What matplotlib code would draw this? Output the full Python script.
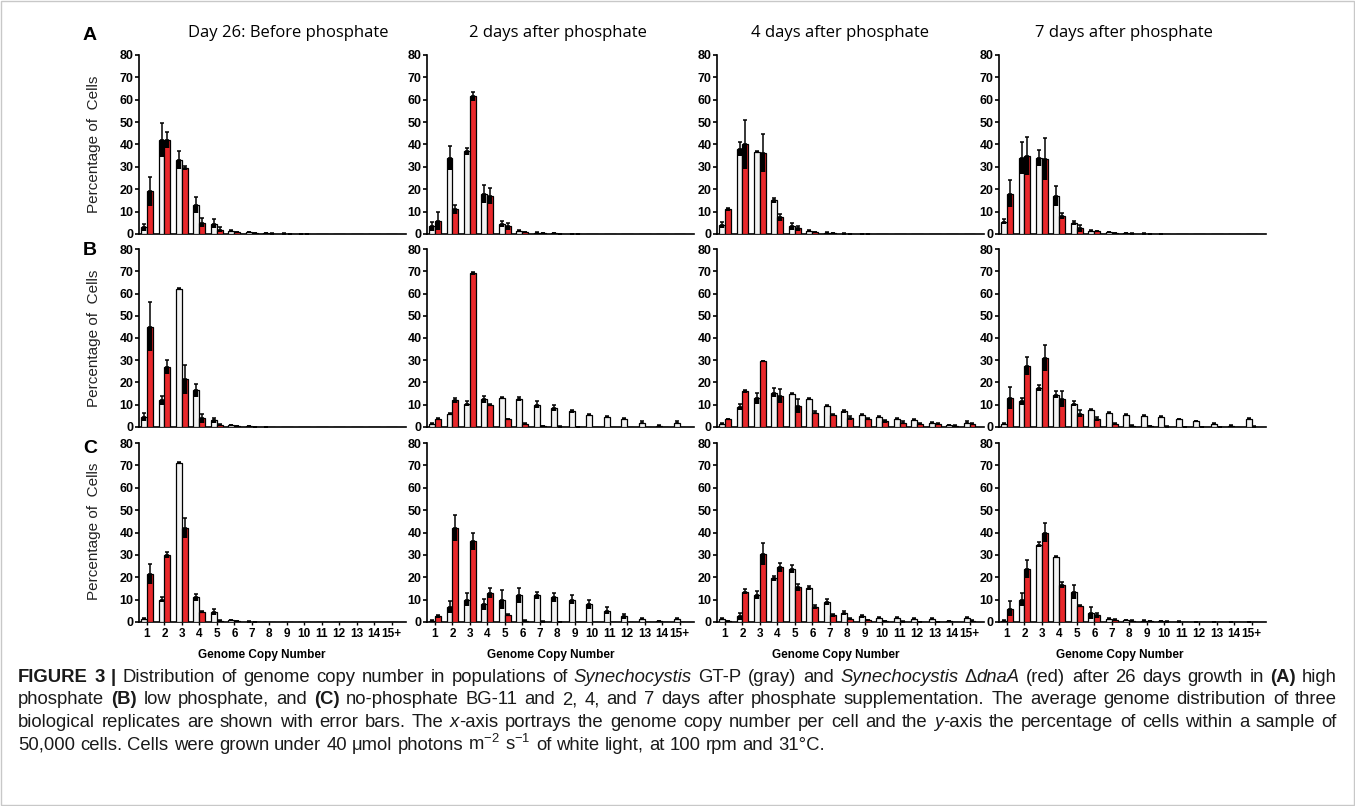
import matplotlib
matplotlib.use("Agg")
import matplotlib.pyplot as plt
import numpy as np
from matplotlib.patches import Rectangle

# genome copy number categories
cats = ["1", "2", "3", "4", "5", "6", "7", "8", "9", "10", "11", "12", "13", "14", "15+"]
col_titles = ["Day 26: Before phosphate", "2 days after phosphate",
              "4 days after phosphate", "7 days after phosphate"]
row_letters = ["A", "B", "C"]

# row A: high phosphate
a1_gtp = [3, 42, 33, 13, 4.5, 1.5, 0.8, 0.3, 0.2, 0.1, 0, 0, 0, 0, 0]
a1_gtp_err = [1.5, 7.5, 4, 3.5, 2, 0.5, 0.3, 0.2, 0.1, 0.1, 0, 0, 0, 0, 0]
a1_dna = [19, 42, 29.5, 5, 2, 0.8, 0.3, 0.2, 0.1, 0.1, 0, 0, 0, 0, 0]
a1_dna_err = [6.5, 3.5, 1, 2, 1, 0.3, 0.2, 0.1, 0.1, 0.1, 0, 0, 0, 0, 0]

a2_gtp = [3.5, 34, 37, 18, 4.5, 1.2, 0.5, 0.3, 0.1, 0, 0, 0, 0, 0, 0]
a2_gtp_err = [2, 5.5, 1.5, 4, 1.5, 0.4, 0.3, 0.2, 0.1, 0, 0, 0, 0, 0, 0]
a2_dna = [6, 11, 61.5, 17, 3.5, 0.8, 0.3, 0.1, 0.1, 0, 0, 0, 0, 0, 0]
a2_dna_err = [4, 2, 2, 3.5, 1.5, 0.3, 0.2, 0.1, 0.1, 0, 0, 0, 0, 0, 0]

a3_gtp = [4, 38, 36.5, 15, 3.5, 1.2, 0.5, 0.2, 0.1, 0, 0, 0, 0, 0, 0]
a3_gtp_err = [1.5, 3, 0.5, 1, 1.5, 0.4, 0.2, 0.1, 0.1, 0, 0, 0, 0, 0, 0]
a3_dna = [11, 40, 36, 7.5, 2.5, 0.7, 0.3, 0.1, 0.1, 0, 0, 0, 0, 0, 0]
a3_dna_err = [0.5, 11, 8.5, 1.5, 1, 0.3, 0.2, 0.1, 0.1, 0, 0, 0, 0, 0, 0]

a4_gtp = [5.5, 34, 34, 17, 5, 1.5, 0.7, 0.4, 0.2, 0.1, 0, 0, 0, 0, 0]
a4_gtp_err = [1, 7, 3.5, 4.5, 1, 0.4, 0.3, 0.2, 0.1, 0.1, 0, 0, 0, 0, 0]
a4_dna = [18, 35, 33.5, 8, 2.5, 1.2, 0.3, 0.2, 0.1, 0, 0, 0, 0, 0, 0]
a4_dna_err = [6, 8.5, 9.5, 1.5, 1.5, 0.3, 0.2, 0.1, 0.1, 0, 0, 0, 0, 0, 0]

# row B: low phosphate
b1_gtp = [4.5, 12, 62, 16.5, 3, 0.8, 0.4, 0.1, 0, 0, 0, 0, 0, 0, 0]
b1_gtp_err = [2, 2, 0.5, 3, 1, 0.3, 0.2, 0.1, 0, 0, 0, 0, 0, 0, 0]
b1_dna = [45, 27, 21.5, 4, 1, 0.3, 0.1, 0, 0, 0, 0, 0, 0, 0, 0]
b1_dna_err = [11, 3, 6.5, 2, 0.5, 0.2, 0.1, 0, 0, 0, 0, 0, 0, 0, 0]

b2_gtp = [1.5, 6, 10.5, 12.5, 13, 12.5, 10, 8.5, 7, 5.5, 4.5, 3.5, 2, 0.5, 2]
b2_gtp_err = [0.5, 0.5, 1, 1.5, 0.5, 1, 1.5, 1.5, 0.5, 0.5, 0.5, 0.5, 0.5, 0.2, 0.5]
b2_dna = [3.5, 12, 69, 10, 3.5, 1.5, 0.3, 0.2, 0.1, 0, 0, 0, 0, 0, 0]
b2_dna_err = [0.5, 1, 0.5, 0.5, 0.3, 0.2, 0.1, 0.1, 0.1, 0, 0, 0, 0, 0, 0]

b3_gtp = [1.5, 9, 13, 15.5, 15, 12.5, 9.5, 7, 5.5, 4.5, 3.5, 3, 2, 0.8, 2]
b3_gtp_err = [0.3, 1.5, 2.5, 2, 0.5, 0.5, 0.5, 0.5, 0.5, 0.5, 0.5, 0.5, 0.3, 0.2, 0.5]
b3_dna = [3.5, 16, 29.5, 14, 9.5, 6.5, 5.5, 4, 3.5, 2.5, 2, 1.5, 1.5, 0.5, 1.5]
b3_dna_err = [0.3, 0.5, 0.3, 3, 3, 0.5, 0.5, 1, 0.5, 0.5, 0.5, 0.3, 0.3, 0.2, 0.3]

b4_gtp = [1.5, 11.5, 17.5, 14.5, 10.5, 7.5, 6.5, 5.5, 5, 4.5, 3.5, 2.5, 1.5, 0.5, 3.5]
b4_gtp_err = [0.3, 1.5, 1.5, 1.5, 1, 0.5, 0.3, 0.3, 0.3, 0.3, 0.3, 0.3, 0.3, 0.2, 0.5]
b4_dna = [13, 27.5, 31, 12.5, 6, 3.5, 1.5, 0.5, 0.3, 0.2, 0.1, 0.1, 0.1, 0, 0.2]
b4_dna_err = [5, 4, 6, 3.5, 1.5, 1, 0.5, 0.2, 0.1, 0.1, 0.1, 0.1, 0.1, 0, 0.1]

# row C: no phosphate
c1_gtp = [1.5, 10, 71, 11, 4.5, 0.8, 0.2, 0, 0, 0, 0, 0, 0, 0, 0]
c1_gtp_err = [0.3, 1, 0.3, 1.7, 1.5, 0.3, 0.1, 0, 0, 0, 0, 0, 0, 0, 0]
c1_dna = [21.5, 30, 42, 4.5, 0.5, 0.3, 0.1, 0, 0, 0, 0, 0, 0, 0, 0]
c1_dna_err = [4.5, 1.5, 4.5, 0.5, 0.2, 0.1, 0.1, 0, 0, 0, 0, 0, 0, 0, 0]

c2_gtp = [0.5, 6.5, 10, 8, 10, 12, 12, 11, 10, 8, 5, 2.5, 1.5, 0.3, 1.5]
c2_gtp_err = [0.2, 2.7, 3, 2.5, 4.3, 3.4, 1.6, 2, 1.9, 2, 1.5, 1, 0.5, 0.2, 0.5]
c2_dna = [2.5, 42, 36, 13, 3, 0.5, 0.2, 0.1, 0, 0, 0, 0, 0, 0, 0]
c2_dna_err = [0.5, 5.7, 3.7, 2.4, 0.5, 0.2, 0.1, 0.1, 0, 0, 0, 0, 0, 0, 0]

c3_gtp = [1.5, 2.5, 12, 19.5, 23.5, 15, 9, 4, 2.5, 2, 2, 1.5, 1.5, 0.3, 1.8]
c3_gtp_err = [0.3, 1.5, 1.9, 1.1, 1.8, 0.9, 1.2, 1, 0.5, 0.4, 0.4, 0.4, 0.3, 0.2, 0.5]
c3_dna = [0.3, 13.5, 30.5, 24.5, 15.5, 6.7, 3, 1.5, 0.8, 0.3, 0.2, 0.1, 0.1, 0, 0.5]
c3_dna_err = [0.1, 1.1, 4.9, 2, 1.5, 0.7, 0.7, 0.4, 0.3, 0.1, 0.1, 0.1, 0.1, 0, 0.2]

c4_gtp = [0.5, 10, 34.5, 29, 13.5, 4, 1.5, 0.8, 0.5, 0.3, 0.2, 0.1, 0.1, 0.1, 0.1]
c4_gtp_err = [0.2, 3, 1.2, 0.5, 3, 2.7, 0.5, 0.3, 0.2, 0.1, 0.1, 0.1, 0.1, 0.1, 0.1]
c4_dna = [6, 23.5, 40, 16.5, 7, 3, 1, 0.5, 0.3, 0.2, 0.1, 0.1, 0.1, 0.1, 0.1]
c4_dna_err = [3.2, 4, 4.3, 1.5, 0.5, 1, 0.4, 0.2, 0.1, 0.1, 0, 0, 0, 0, 0]

panels = [
    [(a1_gtp, a1_gtp_err, a1_dna, a1_dna_err), (a2_gtp, a2_gtp_err, a2_dna, a2_dna_err),
     (a3_gtp, a3_gtp_err, a3_dna, a3_dna_err), (a4_gtp, a4_gtp_err, a4_dna, a4_dna_err)],
    [(b1_gtp, b1_gtp_err, b1_dna, b1_dna_err), (b2_gtp, b2_gtp_err, b2_dna, b2_dna_err),
     (b3_gtp, b3_gtp_err, b3_dna, b3_dna_err), (b4_gtp, b4_gtp_err, b4_dna, b4_dna_err)],
    [(c1_gtp, c1_gtp_err, c1_dna, c1_dna_err), (c2_gtp, c2_gtp_err, c2_dna, c2_dna_err),
     (c3_gtp, c3_gtp_err, c3_dna, c3_dna_err), (c4_gtp, c4_gtp_err, c4_dna, c4_dna_err)],
]

caption = [
    [("FIGURE 3 | ", "b"), ("Distribution of genome copy number in populations of ", "n"),
     ("Synechocystis", "i"), (" GT-P (gray) and ", "n"), ("Synechocystis", "i"), (" \u0394", "n"),
     ("dnaA", "i"), (" (red) after 26 days growth in ", "n"), ("(A)", "b"), (" high", "n")],
    [("phosphate ", "n"), ("(B)", "b"), (" low phosphate, and ", "n"), ("(C)", "b"),
     (" no-phosphate BG-11 and 2, 4, and 7 days after phosphate supplementation. "
      "The average genome distribution of three", "n")],
    [("biological replicates are shown with error bars. The ", "n"), ("x", "i"),
     ("-axis portrays the genome copy number per cell and the ", "n"), ("y", "i"),
     ("-axis the percentage of cells within a sample of", "n")],
    [("50,000 cells. Cells were grown under 40 \u03bcmol photons m$^{-2}$ s$^{-1}$ of white light, "
      "at 100 rpm and 31\u00b0C.", "n")],
]

W, H = 1355, 806
RED = "#e8282b"
LIGHT = "#f3f3f3"

plt.rcParams["font.family"] = ["Liberation Sans", "DejaVu Sans"]
plt.rcParams["mathtext.fontset"] = "custom"
plt.rcParams["mathtext.rm"] = "Liberation Sans"
plt.rcParams["mathtext.it"] = "Liberation Sans:italic"

fig = plt.figure(figsize=(W / 100, H / 100), dpi=100)

col_left = [139, 427, 717, 999]
col_width = 267
row_top = [55, 249, 443]
row_bot = [234, 427, 622]

x = np.arange(1, 16)
bw = 0.34


def draw_err(ax, xs, vals, errs):
    vals = np.array(vals, dtype=float)
    errs = np.array(errs, dtype=float)
    m = errs > 0
    lo = np.minimum(errs, vals)
    ax.vlines(xs[m], (vals - lo)[m], vals[m], color="black", lw=3.2, zorder=4)
    ax.errorbar(xs[m], vals[m], yerr=[np.zeros(m.sum()), errs[m]], fmt="none",
                ecolor="black", elinewidth=1.1, capsize=1.6, capthick=1.1, zorder=4)


for r in range(3):
    for c in range(4):
        gtp, gtp_e, dna, dna_e = panels[r][c]
        ax = fig.add_axes([col_left[c] / W, 1 - row_bot[r] / H, col_width / W,
                           (row_bot[r] - row_top[r]) / H])
        ax.bar(x - bw / 2, gtp, width=bw, color=LIGHT, edgecolor="black", linewidth=0.9, zorder=3)
        ax.bar(x + bw / 2, dna, width=bw, color=RED, edgecolor="black", linewidth=0.9, zorder=3)
        draw_err(ax, x - bw / 2, gtp, gtp_e)
        draw_err(ax, x + bw / 2, dna, dna_e)

        ax.set_xlim(0.54, 15.83)
        ax.set_ylim(0, 80)
        ax.set_yticks(np.arange(0, 81, 10))
        for s in ["top", "right"]:
            ax.spines[s].set_visible(False)
        for s in ["left", "bottom"]:
            ax.spines[s].set_linewidth(1.2)
        ax.tick_params(axis="y", length=3, width=1.2, pad=1, labelsize=9)
        for lab in ax.get_yticklabels():
            lab.set_fontweight("bold")
        ax.set_xticks(x)
        if r == 2:
            ax.set_xticklabels(cats, fontsize=8.5, fontweight="bold")
            ax.tick_params(axis="x", length=2, width=1.0, pad=2)
        else:
            ax.set_xticklabels([])
            ax.tick_params(axis="x", length=0)

# column titles
title_x = [288, 558, 840, 1124]
for c in range(4):
    fig.text(title_x[c] / W, 1 - 33 / H, col_titles[c], family="Open Sans", fontsize=12,
             ha="center", va="center")

# row letters and y labels
letter_y = [35, 250.5, 448.5]
ylab_y = [144, 338, 531]
for r in range(3):
    fig.text(90 / W, 1 - letter_y[r] / H, row_letters[r], fontsize=14, fontweight="bold",
             ha="center", va="center")
    fig.text(94 / W, 1 - ylab_y[r] / H, "Percentage of  Cells", fontsize=11, rotation=90,
             ha="center", va="center", color="#222222")

# x labels
xlab_x = [262, 551, 836, 1120]
for c in range(4):
    fig.text(xlab_x[c] / W, 1 - 655 / H, "Genome Copy Number", fontsize=8.5, fontweight="bold",
             ha="center", va="center")

# caption, drawn word by word so lines can be justified
renderer = fig.canvas.get_renderer()


def make_words(segments):
    words = [[]]
    for txt, st in segments:
        parts = txt.split(" ")
        for i, p in enumerate(parts):
            if i > 0:
                words.append([])
            if p:
                words[-1].append((p, st))
    return [w for w in words if w]


def piece(xp, yp, txt, st, size):
    return fig.text(xp / W, 1 - yp / H, txt, fontsize=size, family="Liberation Sans",
                    fontweight="bold" if st == "b" else "normal",
                    style="italic" if st == "i" else "normal", va="baseline", ha="left",
                    color="#1a1a1a")


def text_w(txt, st, size):
    t = piece(0, 0, txt, st, size)
    w = t.get_window_extent(renderer).width
    t.remove()
    return w


def word_w(word, size):
    return sum(text_w(p, st, size) for p, st in word)


def space_w(size):
    return text_w("a a", "n", size) - text_w("aa", "n", size)


def natural(segments, size):
    words = make_words(segments)
    return sum(word_w(w, size) for w in words) + (len(words) - 1) * space_w(size)


def draw_line(yp, segments, size, justify, x0=18, x1=1337):
    words = make_words(segments)
    widths = [word_w(w, size) for w in words]
    sp = space_w(size)
    if justify and len(words) > 1:
        sp = (x1 - x0 - sum(widths)) / (len(words) - 1)
    xp = x0
    for w, ww in zip(words, widths):
        xx = xp
        for p, st in w:
            piece(xx, yp, p, st, size)
            xx += text_w(p, st, size)
        xp += ww + sp


# fit the font so the widest justified line is only slightly stretched
base = 10
widest = max(natural(seg, base) for seg in caption[:3])
cap_size = base * 1300 / widest

baselines = [682, 704.5, 727, 749.5]
for i, seg in enumerate(caption):
    draw_line(baselines[i], seg, cap_size, i < 3)

fig.patches.append(Rectangle((1 / W, 1 / H), (W - 2) / W, (H - 2) / H, transform=fig.transFigure,
                             fill=False, edgecolor="#c8c8c8", linewidth=1))

fig.savefig("out.png", dpi=100)
